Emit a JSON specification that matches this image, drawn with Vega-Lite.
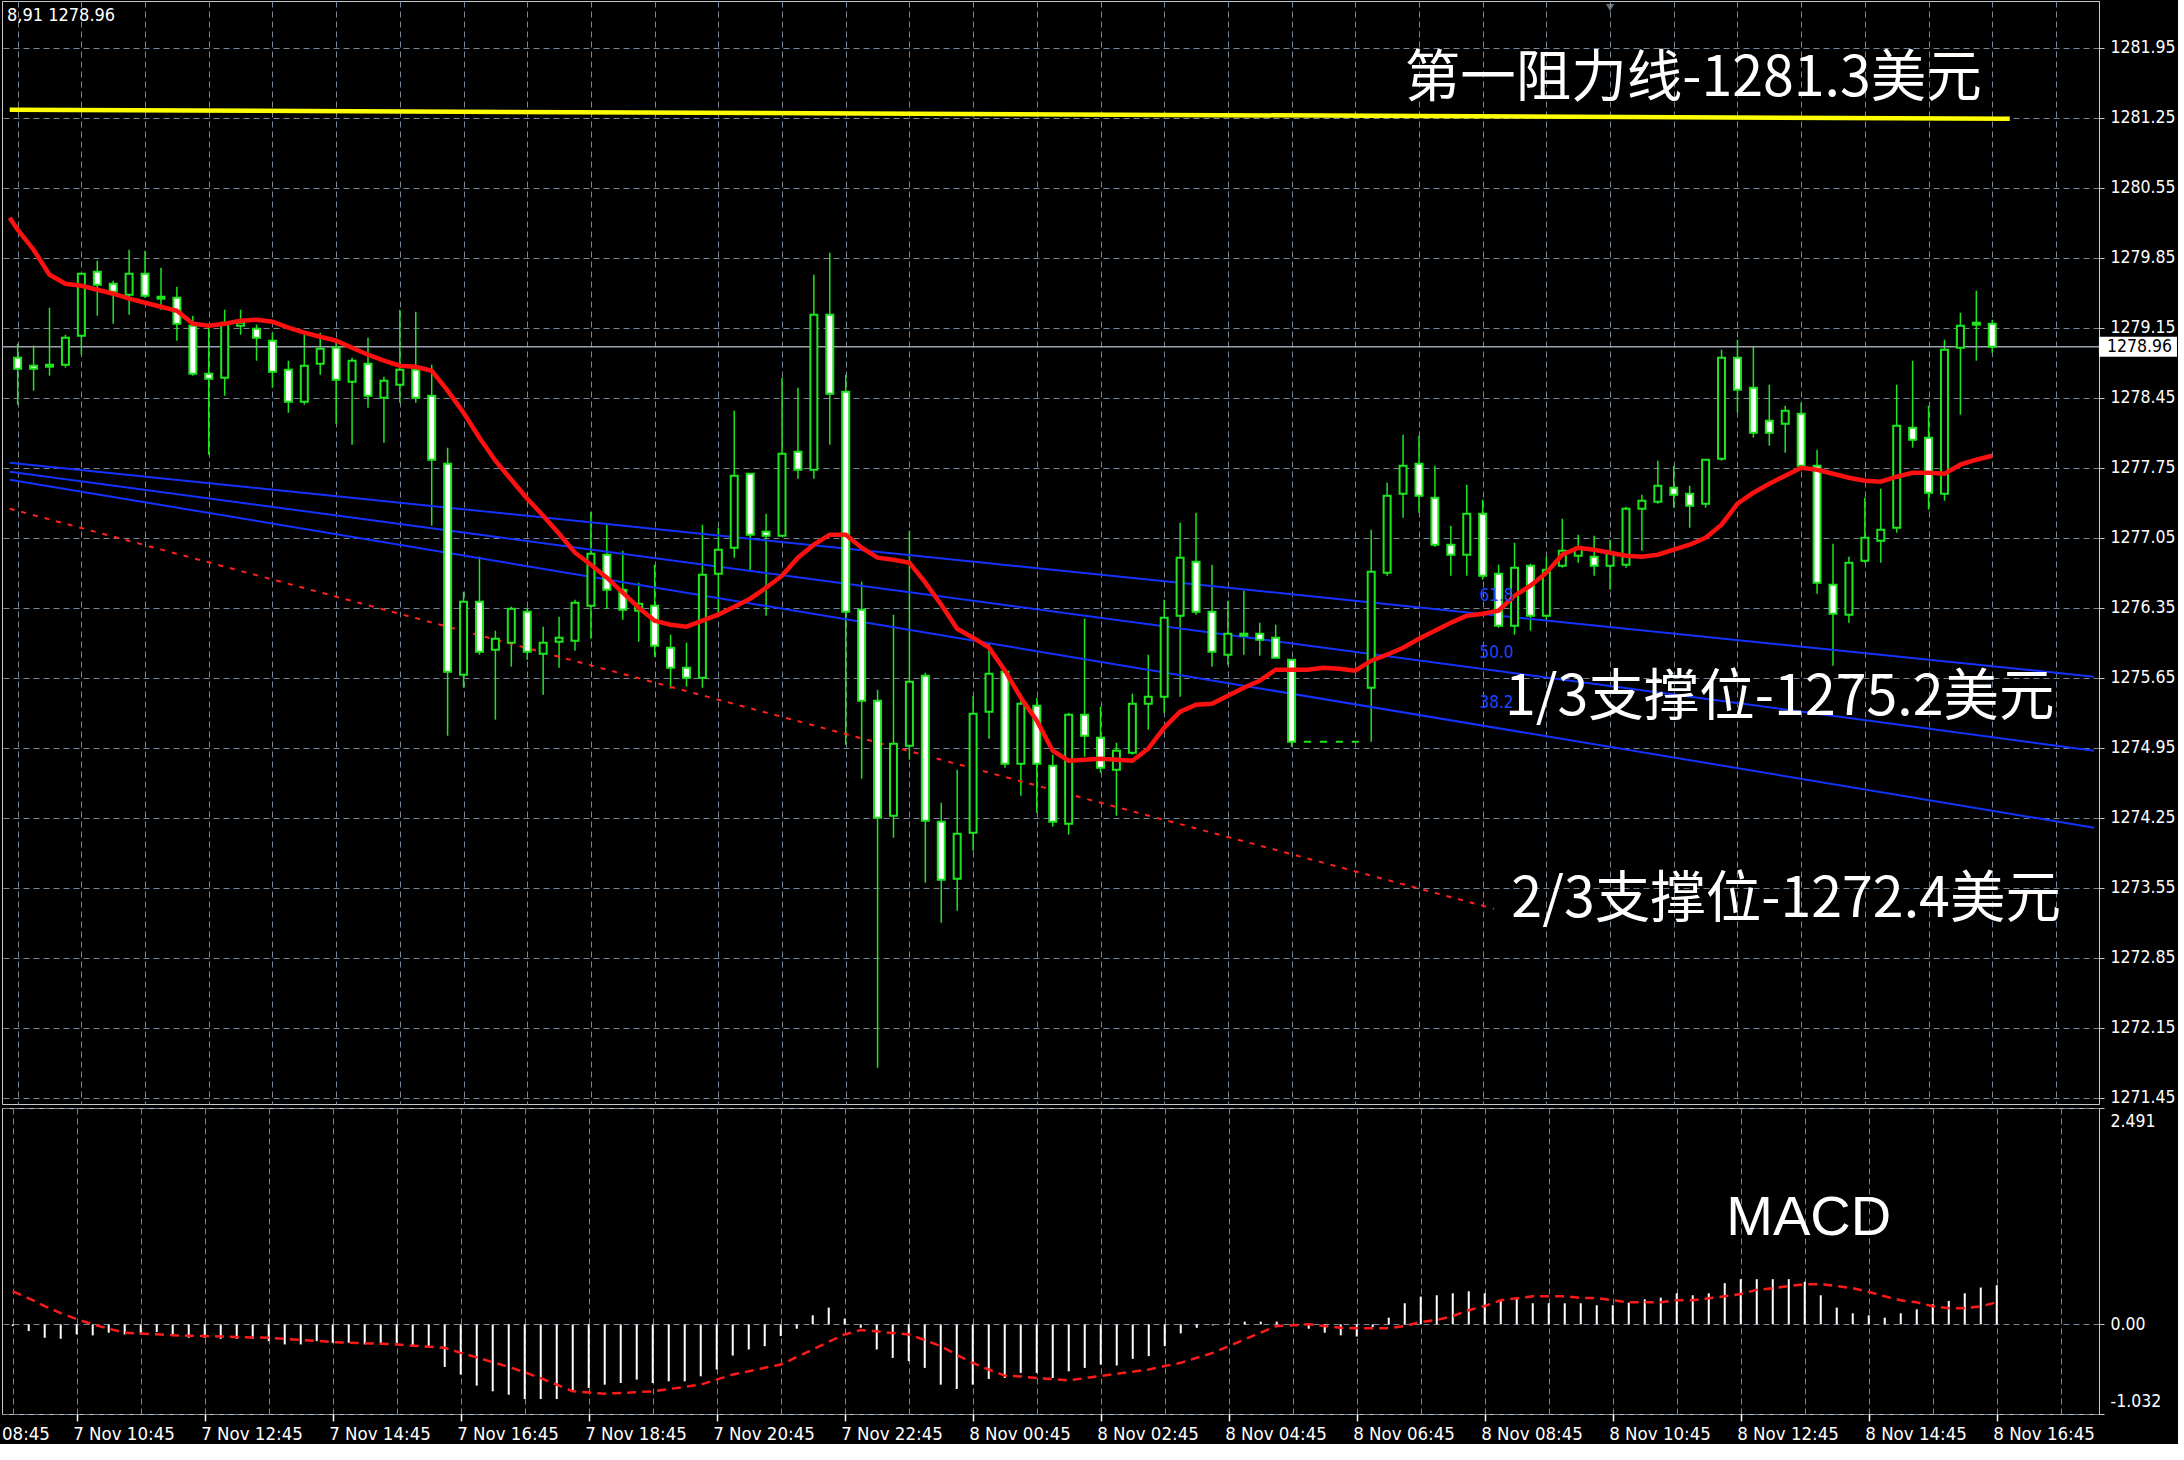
{
"$schema":"https://vega.github.io/schema/vega-lite/v6.json",
"background":"#000000",
"padding":0,
"spacing":4,
"bounds":"flush",
"config":{
 "view":{"stroke":"#c8c8c8","strokeWidth":1},
 "axis":{"labelFont":"DejaVu Sans Condensed","labelFontSize":17.5,"labelColor":"#ffffff","gridColor":"#778899","gridDash":[6,4],"gridWidth":1,"gridOpacity":1,"domainColor":"#c8c8c8","tickColor":"#c8c8c8"}
},
"datasets":{
 "bars":[
{"i":0,"o":1278.85,"h":1278.99,"l":1278.38,"c":1278.74,"m":-0.02,"s":0.38},
{"i":1,"o":1278.77,"h":1278.97,"l":1278.52,"c":1278.74,"m":-0.077,"s":0.30},
{"i":2,"o":1278.76,"h":1279.35,"l":1278.67,"c":1278.78,"m":-0.154,"s":0.21},
{"i":3,"o":1278.78,"h":1279.08,"l":1278.75,"c":1279.05,"m":-0.166,"s":0.13},
{"i":4,"o":1279.07,"h":1279.69,"l":1278.88,"c":1279.69,"m":-0.116,"s":0.06},
{"i":5,"o":1279.71,"h":1279.82,"l":1279.27,"c":1279.58,"m":-0.127,"s":0.0},
{"i":6,"o":1279.59,"h":1279.62,"l":1279.19,"c":1279.51,"m":-0.096,"s":-0.05},
{"i":7,"o":1279.48,"h":1279.93,"l":1279.28,"c":1279.69,"m":-0.116,"s":-0.096},
{"i":8,"o":1279.69,"h":1279.92,"l":1279.45,"c":1279.47,"m":-0.116,"s":-0.105},
{"i":9,"o":1279.44,"h":1279.75,"l":1279.33,"c":1279.46,"m":-0.089,"s":-0.115},
{"i":10,"o":1279.45,"h":1279.56,"l":1279.02,"c":1279.19,"m":-0.116,"s":-0.125},
{"i":11,"o":1279.17,"h":1279.27,"l":1278.67,"c":1278.69,"m":-0.154,"s":-0.13},
{"i":12,"o":1278.69,"h":1279.17,"l":1277.88,"c":1278.64,"m":-0.154,"s":-0.135},
{"i":13,"o":1278.65,"h":1279.33,"l":1278.47,"c":1279.20,"m":-0.166,"s":-0.14},
{"i":14,"o":1279.17,"h":1279.33,"l":1279.08,"c":1279.20,"m":-0.166,"s":-0.145},
{"i":15,"o":1279.14,"h":1279.18,"l":1278.82,"c":1279.05,"m":-0.166,"s":-0.15},
{"i":16,"o":1279.02,"h":1279.10,"l":1278.55,"c":1278.71,"m":-0.193,"s":-0.154},
{"i":17,"o":1278.73,"h":1278.82,"l":1278.30,"c":1278.41,"m":-0.231,"s":-0.167},
{"i":18,"o":1278.41,"h":1279.08,"l":1278.38,"c":1278.77,"m":-0.231,"s":-0.18},
{"i":19,"o":1278.79,"h":1279.10,"l":1278.68,"c":1278.94,"m":-0.193,"s":-0.19},
{"i":20,"o":1278.95,"h":1279.03,"l":1278.19,"c":1278.63,"m":-0.212,"s":-0.204},
{"i":21,"o":1278.61,"h":1278.85,"l":1277.98,"c":1278.82,"m":-0.212,"s":-0.21},
{"i":22,"o":1278.79,"h":1279.05,"l":1278.35,"c":1278.47,"m":-0.231,"s":-0.217},
{"i":23,"o":1278.45,"h":1278.66,"l":1278.00,"c":1278.62,"m":-0.231,"s":-0.224},
{"i":24,"o":1278.58,"h":1279.33,"l":1278.40,"c":1278.73,"m":-0.212,"s":-0.231},
{"i":25,"o":1278.73,"h":1279.31,"l":1278.40,"c":1278.45,"m":-0.251,"s":-0.245},
{"i":26,"o":1278.47,"h":1278.78,"l":1277.17,"c":1277.83,"m":-0.270,"s":-0.258},
{"i":27,"o":1277.79,"h":1277.95,"l":1275.07,"c":1275.71,"m":-0.490,"s":-0.270},
{"i":28,"o":1275.68,"h":1276.51,"l":1275.55,"c":1276.41,"m":-0.578,"s":-0.328},
{"i":29,"o":1276.41,"h":1276.86,"l":1275.88,"c":1275.91,"m":-0.705,"s":-0.38},
{"i":30,"o":1275.93,"h":1276.12,"l":1275.23,"c":1276.04,"m":-0.771,"s":-0.436},
{"i":31,"o":1276.00,"h":1276.36,"l":1275.76,"c":1276.34,"m":-0.810,"s":-0.49},
{"i":32,"o":1276.31,"h":1276.35,"l":1275.83,"c":1275.91,"m":-0.860,"s":-0.551},
{"i":33,"o":1275.89,"h":1276.16,"l":1275.48,"c":1276.00,"m":-0.860,"s":-0.62},
{"i":34,"o":1276.01,"h":1276.26,"l":1275.75,"c":1276.05,"m":-0.860,"s":-0.694},
{"i":35,"o":1276.02,"h":1276.43,"l":1275.92,"c":1276.40,"m":-0.771,"s":-0.771},
{"i":36,"o":1276.37,"h":1277.31,"l":1276.04,"c":1276.89,"m":-0.732,"s":-0.785},
{"i":37,"o":1276.88,"h":1277.18,"l":1276.34,"c":1276.53,"m":-0.694,"s":-0.798},
{"i":38,"o":1276.53,"h":1276.92,"l":1276.23,"c":1276.33,"m":-0.675,"s":-0.79},
{"i":39,"o":1276.32,"h":1276.60,"l":1276.01,"c":1276.39,"m":-0.636,"s":-0.78},
{"i":40,"o":1276.37,"h":1276.78,"l":1275.86,"c":1275.97,"m":-0.675,"s":-0.771},
{"i":41,"o":1275.95,"h":1276.08,"l":1275.54,"c":1275.75,"m":-0.655,"s":-0.745},
{"i":42,"o":1275.75,"h":1276.00,"l":1275.56,"c":1275.65,"m":-0.655,"s":-0.72},
{"i":43,"o":1275.65,"h":1277.18,"l":1275.55,"c":1276.68,"m":-0.598,"s":-0.694},
{"i":44,"o":1276.69,"h":1277.15,"l":1276.28,"c":1276.93,"m":-0.520,"s":-0.636},
{"i":45,"o":1276.95,"h":1278.32,"l":1276.85,"c":1277.67,"m":-0.359,"s":-0.578},
{"i":46,"o":1277.69,"h":1277.69,"l":1276.72,"c":1277.08,"m":-0.289,"s":-0.54},
{"i":47,"o":1277.11,"h":1277.29,"l":1276.27,"c":1277.07,"m":-0.251,"s":-0.50},
{"i":48,"o":1277.07,"h":1278.65,"l":1277.07,"c":1277.89,"m":-0.135,"s":-0.463},
{"i":49,"o":1277.91,"h":1278.55,"l":1277.64,"c":1277.73,"m":-0.050,"s":-0.376},
{"i":50,"o":1277.73,"h":1279.68,"l":1277.64,"c":1279.28,"m":0.104,"s":-0.289},
{"i":51,"o":1279.28,"h":1279.90,"l":1277.98,"c":1278.49,"m":0.193,"s":-0.20},
{"i":52,"o":1278.51,"h":1278.68,"l":1274.98,"c":1276.31,"m":0.066,"s":-0.116},
{"i":53,"o":1276.33,"h":1276.61,"l":1274.64,"c":1275.42,"m":-0.039,"s":-0.066},
{"i":54,"o":1275.42,"h":1275.53,"l":1271.75,"c":1274.25,"m":-0.289,"s":-0.08},
{"i":55,"o":1274.27,"h":1276.28,"l":1274.05,"c":1274.99,"m":-0.386,"s":-0.10},
{"i":56,"o":1274.97,"h":1277.12,"l":1274.83,"c":1275.61,"m":-0.424,"s":-0.116},
{"i":57,"o":1275.67,"h":1275.70,"l":1273.60,"c":1274.22,"m":-0.501,"s":-0.18},
{"i":58,"o":1274.21,"h":1274.40,"l":1273.20,"c":1273.63,"m":-0.694,"s":-0.251},
{"i":59,"o":1273.64,"h":1274.73,"l":1273.32,"c":1274.09,"m":-0.744,"s":-0.35},
{"i":60,"o":1274.10,"h":1275.47,"l":1273.92,"c":1275.29,"m":-0.694,"s":-0.443},
{"i":61,"o":1275.31,"h":1275.99,"l":1275.04,"c":1275.69,"m":-0.628,"s":-0.52},
{"i":62,"o":1275.71,"h":1275.73,"l":1274.75,"c":1274.79,"m":-0.617,"s":-0.59},
{"i":63,"o":1274.79,"h":1275.49,"l":1274.47,"c":1275.39,"m":-0.559,"s":-0.60},
{"i":64,"o":1275.37,"h":1275.45,"l":1274.30,"c":1274.79,"m":-0.559,"s":-0.617},
{"i":65,"o":1274.77,"h":1274.88,"l":1274.16,"c":1274.21,"m":-0.617,"s":-0.63},
{"i":66,"o":1274.19,"h":1275.30,"l":1274.08,"c":1275.28,"m":-0.540,"s":-0.644},
{"i":67,"o":1275.28,"h":1276.24,"l":1274.86,"c":1275.07,"m":-0.501,"s":-0.62},
{"i":68,"o":1275.05,"h":1275.36,"l":1274.70,"c":1274.75,"m":-0.463,"s":-0.594},
{"i":69,"o":1274.73,"h":1275.00,"l":1274.27,"c":1274.92,"m":-0.474,"s":-0.57},
{"i":70,"o":1274.90,"h":1275.49,"l":1274.88,"c":1275.39,"m":-0.397,"s":-0.545},
{"i":71,"o":1275.39,"h":1275.88,"l":1275.13,"c":1275.46,"m":-0.366,"s":-0.52},
{"i":72,"o":1275.46,"h":1276.43,"l":1275.30,"c":1276.25,"m":-0.251,"s":-0.48},
{"i":73,"o":1276.27,"h":1277.20,"l":1275.46,"c":1276.85,"m":-0.104,"s":-0.443},
{"i":74,"o":1276.81,"h":1277.30,"l":1276.28,"c":1276.31,"m":-0.039,"s":-0.385},
{"i":75,"o":1276.31,"h":1276.78,"l":1275.76,"c":1275.91,"m":-0.012,"s":-0.328},
{"i":76,"o":1275.88,"h":1276.42,"l":1275.78,"c":1276.09,"m":0.01,"s":-0.25},
{"i":77,"o":1276.07,"h":1276.52,"l":1275.88,"c":1276.09,"m":0.031,"s":-0.173},
{"i":78,"o":1276.09,"h":1276.20,"l":1275.87,"c":1276.03,"m":0.031,"s":-0.095},
{"i":79,"o":1276.05,"h":1276.18,"l":1275.85,"c":1275.85,"m":0.031,"s":-0.019},
{"i":80,"o":1275.83,"h":1275.83,"l":1274.96,"c":1275.01,"m":-0.01,"s":-0.01},
{"i":81,"o":1275.01,"h":1275.01,"l":1275.01,"c":1275.01,"m":-0.05,"s":0.0},
{"i":82,"o":1275.01,"h":1275.01,"l":1275.01,"c":1275.01,"m":-0.096,"s":-0.02},
{"i":83,"o":1275.01,"h":1275.01,"l":1275.01,"c":1275.01,"m":-0.127,"s":-0.039},
{"i":84,"o":1275.01,"h":1275.01,"l":1275.01,"c":1275.01,"m":-0.14,"s":-0.046},
{"i":85,"o":1275.55,"h":1277.13,"l":1275.01,"c":1276.71,"m":-0.03,"s":-0.046},
{"i":86,"o":1276.70,"h":1277.60,"l":1276.67,"c":1277.47,"m":0.077,"s":-0.046},
{"i":87,"o":1277.49,"h":1278.08,"l":1277.25,"c":1277.77,"m":0.243,"s":-0.02},
{"i":88,"o":1277.79,"h":1278.07,"l":1277.30,"c":1277.47,"m":0.32,"s":0.027},
{"i":89,"o":1277.45,"h":1277.77,"l":1276.96,"c":1276.98,"m":0.335,"s":0.05},
{"i":90,"o":1276.98,"h":1277.17,"l":1276.67,"c":1276.88,"m":0.358,"s":0.096},
{"i":91,"o":1276.88,"h":1277.58,"l":1276.67,"c":1277.29,"m":0.381,"s":0.162},
{"i":92,"o":1277.29,"h":1277.43,"l":1276.63,"c":1276.67,"m":0.358,"s":0.212},
{"i":93,"o":1276.69,"h":1276.78,"l":1276.15,"c":1276.17,"m":0.277,"s":0.277},
{"i":94,"o":1276.17,"h":1277.00,"l":1276.08,"c":1276.75,"m":0.297,"s":0.30},
{"i":95,"o":1276.77,"h":1276.79,"l":1276.12,"c":1276.27,"m":0.243,"s":0.323},
{"i":96,"o":1276.27,"h":1276.86,"l":1276.22,"c":1276.73,"m":0.243,"s":0.323},
{"i":97,"o":1276.77,"h":1277.24,"l":1276.75,"c":1276.92,"m":0.243,"s":0.323},
{"i":98,"o":1276.87,"h":1277.08,"l":1276.80,"c":1276.95,"m":0.243,"s":0.304},
{"i":99,"o":1276.86,"h":1277.07,"l":1276.67,"c":1276.77,"m":0.22,"s":0.304},
{"i":100,"o":1276.77,"h":1277.03,"l":1276.53,"c":1276.90,"m":0.22,"s":0.277},
{"i":101,"o":1276.78,"h":1277.36,"l":1276.75,"c":1277.34,"m":0.25,"s":0.254},
{"i":102,"o":1277.34,"h":1277.48,"l":1276.92,"c":1277.42,"m":0.289,"s":0.254},
{"i":103,"o":1277.41,"h":1277.82,"l":1277.39,"c":1277.57,"m":0.308,"s":0.254},
{"i":104,"o":1277.55,"h":1277.77,"l":1277.35,"c":1277.48,"m":0.358,"s":0.277},
{"i":105,"o":1277.49,"h":1277.57,"l":1277.15,"c":1277.37,"m":0.335,"s":0.277},
{"i":106,"o":1277.39,"h":1277.83,"l":1277.35,"c":1277.83,"m":0.358,"s":0.30},
{"i":107,"o":1277.84,"h":1278.93,"l":1277.82,"c":1278.85,"m":0.474,"s":0.323},
{"i":108,"o":1278.85,"h":1279.03,"l":1278.30,"c":1278.53,"m":0.52,"s":0.35},
{"i":109,"o":1278.55,"h":1278.96,"l":1278.05,"c":1278.10,"m":0.52,"s":0.397},
{"i":110,"o":1278.22,"h":1278.58,"l":1277.97,"c":1278.10,"m":0.52,"s":0.416},
{"i":111,"o":1278.19,"h":1278.37,"l":1277.90,"c":1278.32,"m":0.52,"s":0.44},
{"i":112,"o":1278.29,"h":1278.40,"l":1277.75,"c":1277.77,"m":0.49,"s":0.462},
{"i":113,"o":1277.77,"h":1277.93,"l":1276.49,"c":1276.60,"m":0.335,"s":0.462},
{"i":114,"o":1276.58,"h":1276.99,"l":1275.77,"c":1276.29,"m":0.193,"s":0.44},
{"i":115,"o":1276.28,"h":1276.86,"l":1276.20,"c":1276.80,"m":0.127,"s":0.416},
{"i":116,"o":1276.82,"h":1277.45,"l":1276.80,"c":1277.05,"m":0.104,"s":0.374},
{"i":117,"o":1277.02,"h":1277.54,"l":1276.80,"c":1277.13,"m":0.077,"s":0.323},
{"i":118,"o":1277.15,"h":1278.58,"l":1277.10,"c":1278.17,"m":0.127,"s":0.277},
{"i":119,"o":1278.15,"h":1278.82,"l":1277.95,"c":1278.03,"m":0.173,"s":0.254},
{"i":120,"o":1278.05,"h":1278.37,"l":1277.33,"c":1277.50,"m":0.231,"s":0.208},
{"i":121,"o":1277.49,"h":1279.03,"l":1277.42,"c":1278.93,"m":0.27,"s":0.185},
{"i":122,"o":1278.95,"h":1279.30,"l":1278.28,"c":1279.17,"m":0.358,"s":0.185},
{"i":123,"o":1279.18,"h":1279.52,"l":1278.82,"c":1279.20,"m":0.424,"s":0.208},
{"i":124,"o":1279.19,"h":1279.23,"l":1278.90,"c":1278.96,"m":0.451,"s":0.254}
 ],
 "ma":[
{"i":-0.5,"v":1280.25},{"i":0,"v":1280.13},{"i":1,"v":1279.93},{"i":2,"v":1279.68},{"i":3,"v":1279.59},{"i":4,"v":1279.57},{"i":5,"v":1279.53},{"i":6,"v":1279.49},{"i":7,"v":1279.44},{"i":8,"v":1279.40},{"i":9,"v":1279.36},{"i":10,"v":1279.32},{"i":11,"v":1279.19},{"i":12,"v":1279.17},{"i":13,"v":1279.19},{"i":14,"v":1279.22},{"i":15,"v":1279.23},{"i":16,"v":1279.21},{"i":17,"v":1279.15},{"i":18,"v":1279.10},{"i":19,"v":1279.06},{"i":20,"v":1279.02},{"i":21,"v":1278.95},{"i":22,"v":1278.88},{"i":23,"v":1278.82},{"i":24,"v":1278.77},{"i":25,"v":1278.76},{"i":26,"v":1278.72},{"i":27,"v":1278.52},{"i":28,"v":1278.30},{"i":29,"v":1278.05},{"i":30,"v":1277.82},{"i":31,"v":1277.63},{"i":32,"v":1277.44},{"i":33,"v":1277.27},{"i":34,"v":1277.09},{"i":35,"v":1276.90},{"i":36,"v":1276.78},{"i":37,"v":1276.65},{"i":38,"v":1276.50},{"i":39,"v":1276.35},{"i":40,"v":1276.22},{"i":41,"v":1276.18},{"i":42,"v":1276.16},{"i":43,"v":1276.22},{"i":44,"v":1276.28},{"i":45,"v":1276.36},{"i":46,"v":1276.44},{"i":47,"v":1276.55},{"i":48,"v":1276.67},{"i":49,"v":1276.85},{"i":50,"v":1276.98},{"i":51,"v":1277.08},{"i":52,"v":1277.08},{"i":53,"v":1276.95},{"i":54,"v":1276.85},{"i":55,"v":1276.83},{"i":56,"v":1276.80},{"i":57,"v":1276.60},{"i":58,"v":1276.38},{"i":59,"v":1276.14},{"i":60,"v":1276.05},{"i":61,"v":1275.95},{"i":62,"v":1275.72},{"i":63,"v":1275.45},{"i":64,"v":1275.22},{"i":65,"v":1274.92},{"i":66,"v":1274.82},{"i":67,"v":1274.83},{"i":68,"v":1274.84},{"i":69,"v":1274.83},{"i":70,"v":1274.82},{"i":71,"v":1274.94},{"i":72,"v":1275.15},{"i":73,"v":1275.31},{"i":74,"v":1275.38},{"i":75,"v":1275.39},{"i":76,"v":1275.47},{"i":77,"v":1275.55},{"i":78,"v":1275.62},{"i":79,"v":1275.73},{"i":80,"v":1275.73},{"i":81,"v":1275.73},{"i":82,"v":1275.75},{"i":83,"v":1275.74},{"i":84,"v":1275.72},{"i":85,"v":1275.82},{"i":86,"v":1275.88},{"i":87,"v":1275.95},{"i":88,"v":1276.04},{"i":89,"v":1276.12},{"i":90,"v":1276.20},{"i":91,"v":1276.27},{"i":92,"v":1276.29},{"i":93,"v":1276.32},{"i":94,"v":1276.47},{"i":95,"v":1276.57},{"i":96,"v":1276.70},{"i":97,"v":1276.88},{"i":98,"v":1276.95},{"i":99,"v":1276.93},{"i":100,"v":1276.90},{"i":101,"v":1276.87},{"i":102,"v":1276.86},{"i":103,"v":1276.88},{"i":104,"v":1276.93},{"i":105,"v":1276.98},{"i":106,"v":1277.05},{"i":107,"v":1277.18},{"i":108,"v":1277.39},{"i":109,"v":1277.50},{"i":110,"v":1277.59},{"i":111,"v":1277.67},{"i":112,"v":1277.75},{"i":113,"v":1277.73},{"i":114,"v":1277.69},{"i":115,"v":1277.65},{"i":116,"v":1277.62},{"i":117,"v":1277.61},{"i":118,"v":1277.66},{"i":119,"v":1277.70},{"i":120,"v":1277.70},{"i":121,"v":1277.69},{"i":122,"v":1277.78},{"i":123,"v":1277.83},{"i":124,"v":1277.87}
 ],
 "trend":[
{"k":"res","i":-0.5,"p":1281.33},{"k":"res","i":125.1,"p":1281.24},
{"k":"A","i":-0.5,"p":1277.80},{"k":"A","i":130.39,"p":1275.66},
{"k":"B","i":-0.5,"p":1277.71},{"k":"B","i":130.39,"p":1274.92},
{"k":"C","i":-0.5,"p":1277.63},{"k":"C","i":130.39,"p":1274.15},
{"k":"D","i":-0.5,"p":1277.34},{"k":"D","i":92.7,"p":1273.34}
 ]
},
"vconcat":[
{
 "width":2097,"height":1103,
 "layer":[
  {"data":{"name":"bars"},
   "mark":{"type":"rule","color":"#1ee61e","strokeWidth":1.5},
   "encoding":{
    "x":{"field":"i","type":"quantitative","title":null,"scale":{"domain":[-0.67,130.39],"nice":false,"zero":false},
         "axis":{"values":[0,4,8,12,16,20,24,28,32,36,40,44,48,52,56,60,64,68,72,76,80,84,88,92,96,100,104,108,112,116,120,124,128],"labels":false,"ticks":false,"domain":false,"grid":true}},
    "y":{"field":"l","type":"quantitative","title":null,"scale":{"domain":[1271.387,1282.417],"nice":false,"zero":false},
         "axis":{"orient":"right","values":[1271.45,1272.15,1272.85,1273.55,1274.25,1274.95,1275.65,1276.35,1277.05,1277.75,1278.45,1279.15,1279.85,1280.55,1281.25,1281.95],"format":".2f","grid":true,"tickSize":5,"labelPadding":6,"domain":true}},
    "y2":{"field":"h"}
   }},
  {"data":{"name":"trend"},"transform":[{"filter":"datum.k=='D'"}],
   "mark":{"type":"line","color":"#ff2020","strokeWidth":2,"strokeDash":[5,7],"clip":true},
   "encoding":{"x":{"field":"i","type":"quantitative","title":null},"y":{"field":"p","type":"quantitative","title":null}}},
  {"data":{"name":"trend"},"transform":[{"filter":"datum.k=='A'||datum.k=='B'||datum.k=='C'"}],
   "mark":{"type":"line","color":"#1432ff","strokeWidth":2,"clip":true},
   "encoding":{"x":{"field":"i","type":"quantitative","title":null},"y":{"field":"p","type":"quantitative","title":null},"detail":{"field":"k"}}},
  {"data":{"name":"trend"},"transform":[{"filter":"datum.k=='res'"}],
   "mark":{"type":"line","color":"#ffff00","strokeWidth":4.5,"clip":true},
   "encoding":{"x":{"field":"i","type":"quantitative","title":null},"y":{"field":"p","type":"quantitative","title":null}}},
  {"data":{"values":[{"p":1278.96}]},
   "mark":{"type":"rule","color":"#9aa3ab","strokeWidth":1.5},
   "encoding":{"y":{"field":"p","type":"quantitative","title":null}}},
  {"data":{"name":"bars"},
   "mark":{"type":"bar","size":7,"stroke":"#1ee61e","strokeWidth":2},
   "encoding":{
    "x":{"field":"i","type":"quantitative","title":null},
    "y":{"field":"o","type":"quantitative","title":null},
    "y2":{"field":"c"},
    "fill":{"condition":{"test":"datum.c < datum.o","value":"#ffffff"},"value":"#000000"}
   }},
  {"data":{"name":"ma"},
   "mark":{"type":"line","color":"#ff1010","strokeWidth":4.5,"clip":true},
   "encoding":{"x":{"field":"i","type":"quantitative","title":null},"y":{"field":"v","type":"quantitative","title":null}}},
  {"data":{"values":[{"t":"61.8","i":91.8,"p":1276.47},{"t":"50.0","i":91.8,"p":1275.90},{"t":"38.2","i":91.8,"p":1275.40}]},
   "mark":{"type":"text","font":"DejaVu Sans Condensed","fontSize":17,"color":"#1e46ff","align":"left","baseline":"middle"},
   "encoding":{"x":{"field":"i","type":"quantitative","title":null},"y":{"field":"p","type":"quantitative","title":null},"text":{"field":"t"}}},
  {"data":{"values":[{"t":"第一阻力线-1281.3美元","i":87.1,"p":1281.64},{"t":"1/3支撑位-1275.2美元","i":93.4,"p":1275.45},{"t":"2/3支撑位-1272.4美元","i":93.8,"p":1273.43}]},
   "mark":{"type":"text","font":"Noto Sans CJK SC","fontSize":55.5,"color":"#ffffff","align":"left","baseline":"middle"},
   "encoding":{"x":{"field":"i","type":"quantitative","title":null},"y":{"field":"p","type":"quantitative","title":null},"text":{"field":"t"}}},
  {"data":{"values":[{"t":"8,91 1278.96","i":-0.67,"p":1282.27}]},
   "mark":{"type":"text","font":"DejaVu Sans Condensed","fontSize":18,"color":"#ffffff","align":"left","baseline":"middle"},
   "encoding":{"x":{"field":"i","type":"quantitative","title":null},"y":{"field":"p","type":"quantitative","title":null},"text":{"field":"t"}}},
  {"data":{"values":[{"i":100,"p":1282.35}]},
   "mark":{"type":"point","shape":"triangle-down","filled":true,"color":"#8a9aa8","size":70},
   "encoding":{"x":{"field":"i","type":"quantitative","title":null},"y":{"field":"p","type":"quantitative","title":null}}},
  {"data":{"values":[{"p":1278.96,"a":130.7,"b":135.6,"top":1279.06,"bot":1278.86}]},
   "mark":{"type":"rect","fill":"#ffffff","clip":false},
   "encoding":{"x":{"field":"a","type":"quantitative","title":null},"x2":{"field":"b"},"y":{"field":"top","type":"quantitative","title":null},"y2":{"field":"bot"}}},
  {"data":{"values":[{"p":1278.96,"a":131.2,"t":"1278.96"}]},
   "mark":{"type":"text","font":"DejaVu Sans Condensed","fontSize":17.5,"color":"#000000","align":"left","baseline":"middle"},
   "encoding":{"x":{"field":"a","type":"quantitative","title":null},"y":{"field":"p","type":"quantitative","title":null},"text":{"field":"t"}}}
 ]
},
{
 "width":2097,"height":306,
 "layer":[
  {"data":{"name":"bars"},
   "mark":{"type":"rule","color":"#ffffff","strokeWidth":2},
   "encoding":{
    "x":{"field":"i","type":"quantitative","title":null,"scale":{"domain":[-0.67,130.39],"nice":false,"zero":false},
         "axis":{"values":[0,4,8,12,16,20,24,28,32,36,40,44,48,52,56,60,64,68,72,76,80,84,88,92,96,100,104,108,112,116,120,124,128],
                 "grid":true,"domain":false,"tickSize":7,"tickWidth":1.5,"tickColor":"#ffffff",
                 "tickOpacity":{"condition":{"test":"datum.value % 8 == 4","value":1},"value":0},
                 "labelAlign":"left","labelOffset":-4,"labelPadding":3,"labelFontSize":18.5,
                 "labelExpr":"datum.value % 8 == 4 ? timeFormat(datetime(2018, 10, 7, 9, 45 + datum.value * 15), '%-d %b %H:%M') : ''"}},
    "y":{"field":"m","type":"quantitative","title":null,"scale":{"domain":[-1.032,2.491],"nice":false,"zero":false},
         "axis":{"orient":"right","values":[2.491,0,-1.032],"grid":true,"labelFlush":true,"labelFlushOffset":-4,"tickSize":5,"labelPadding":6,"domain":true,
                 "labelExpr":"(datum.value < 0 ? '-' : '') + format(abs(datum.value), datum.value == 0 ? '.2f' : '.3f')"}},
    "y2":{"datum":0}
   }},
  {"data":{"name":"bars"},
   "mark":{"type":"line","color":"#ff1a1a","strokeWidth":2.5,"strokeDash":[9,6],"clip":true},
   "encoding":{"x":{"field":"i","type":"quantitative","title":null},"y":{"field":"s","type":"quantitative","title":null}}},
  {"data":{"values":[{"t":"MACD","i":107.1,"v":1.225}]},
   "mark":{"type":"text","font":"Liberation Sans","fontSize":56,"color":"#ffffff","align":"left","baseline":"middle"},
   "encoding":{"x":{"field":"i","type":"quantitative","title":null},"y":{"field":"v","type":"quantitative","title":null},"text":{"field":"t"}}},
  {"data":{"values":[{"t":"08:45","i":-0.67,"v":-1.032}]},
   "mark":{"type":"text","font":"DejaVu Sans Condensed","fontSize":18.5,"color":"#ffffff","align":"left","baseline":"middle","dy":20},
   "encoding":{"x":{"field":"i","type":"quantitative","title":null},"y":{"field":"v","type":"quantitative","title":null},"text":{"field":"t"}}}
 ]
}
]
}
